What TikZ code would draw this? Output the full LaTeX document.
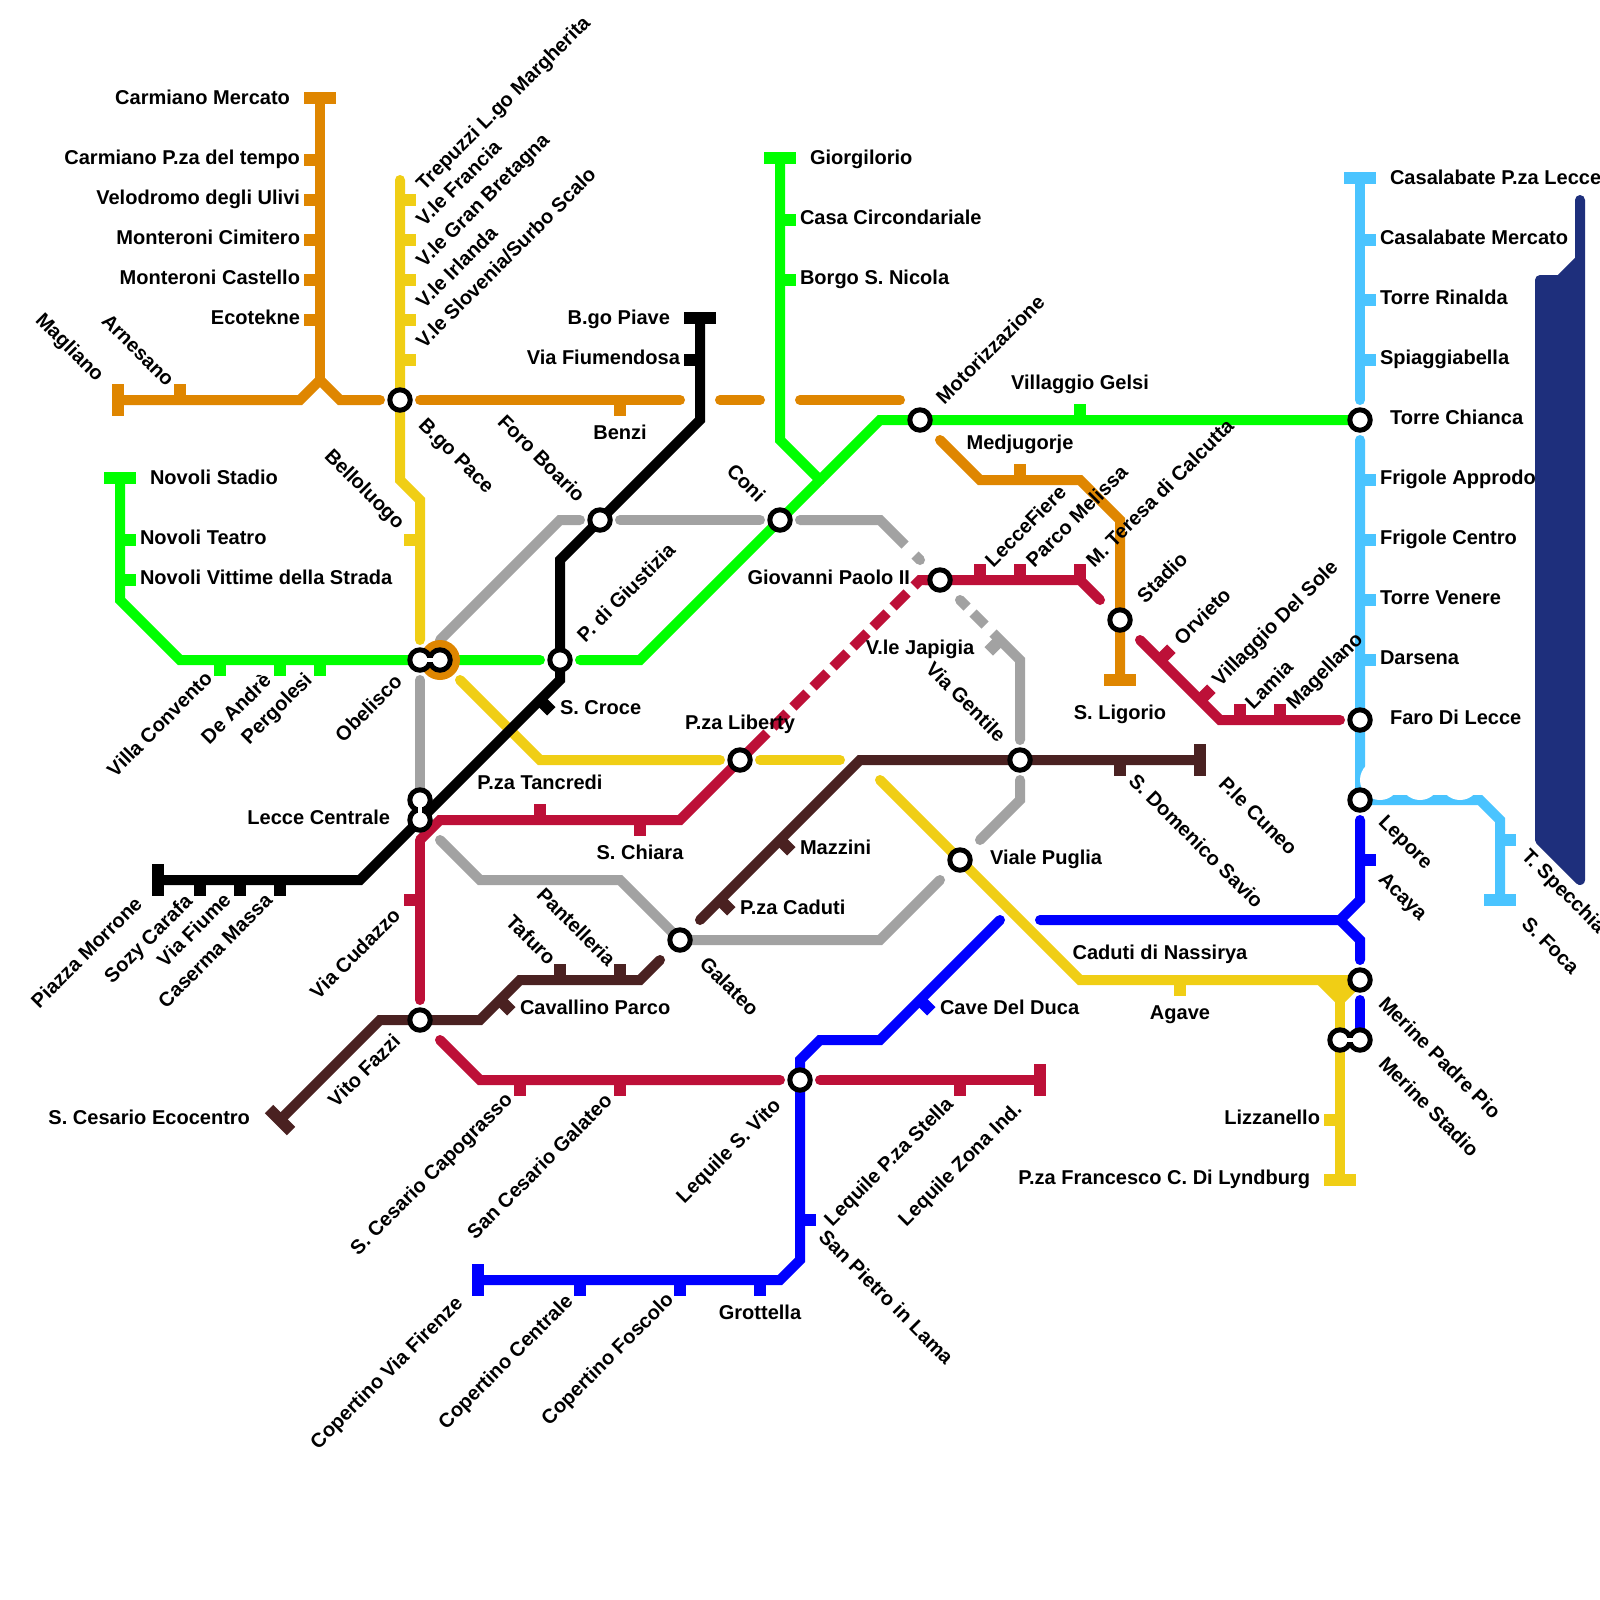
\documentclass[tikz,border=0pt]{standalone}
\usepackage{fontspec}
\setmainfont{Liberation Sans}[BoldFont={Liberation Sans Bold}]
\definecolor{cor}{HTML}{DF8600}
\definecolor{cye}{HTML}{F0CE15}
\definecolor{cgr}{HTML}{00FF00}
\definecolor{cgy}{HTML}{A2A2A2}
\definecolor{cre}{HTML}{BD1038}
\definecolor{cbr}{HTML}{4A2121}
\definecolor{cbl}{HTML}{0000FF}
\definecolor{clb}{HTML}{4AC4FF}
\definecolor{cnv}{HTML}{1E2F7C}
\newcounter{lbn}
\newcommand{\lbl}[3]{\stepcounter{lbn}\node[lab,#1] (lab\thelbn) at (#2) {#3};}
\newcommand{\stn}[1]{\node[station] (st#1) at (#1) {};}
\tikzset{
 mline/.style={line width=.5cm,line cap=round,line join=miter,miter limit=10},
 bline/.style={line width=.5cm,line cap=butt,line join=miter,miter limit=10},
 tickm/.style={line width=.6cm,line cap=butt},
 pairb/.style={line width=.55cm,black},
 pairw/.style={line width=.2cm,white},
 station/.style={circle,draw=black,fill=white,line width=.25cm,minimum size=1.02cm,inner sep=0pt},
 lab/.style={inner sep=0pt,outer sep=0pt,font=\fontsize{28.5}{30}\selectfont\bfseries,text=black},
 hl/.style={yshift=.01cm,anchor=base west},
 hr/.style={yshift=.01cm,anchor=base east},
 hc/.style={yshift=.01cm,anchor=base},
 ru/.style={xshift=.42cm,yshift=-.4cm,rotate=45,anchor=base west},
 rd/.style={xshift=-.07cm,yshift=-.25cm,rotate=-45,anchor=base west},
}
\begin{document}
\begin{tikzpicture}[x=.05cm,y=-.05cm]
\useasboundingbox (0,0) rectangle (1600,1600);
\fill[white] (0,0) rectangle (1600,1600);
% station positions
\foreach \n/\p in {bgopace/{400,400},obel/{420,660},obelb/{440,660},giust/{560,660},foro/{600,520},coni/{780,520},motor/{920,420},chianca/{1360,420},liberty/{740,760},gpaolo/{940,580},stadio/{1120,620},gentile/{1020,760},puglia/{960,860},galateo/{680,940},lecce/{420,800},lecceb/{420,820},fazzi/{420,1020},svito/{800,1080},faro/{1360,720},lepore/{1360,800},padrepio/{1360,980},stadioa/{1340,1040},stadiob/{1360,1040}}
 {\coordinate (\n) at (\p);}
% sea
\draw[cnv,fill=cnv,line width=.5cm,line cap=round,line join=round] (1580,200) -- (1580,880) -- (1540,840) -- (1540,280) -- (1560,280) -- (1580,260) -- cycle;
% grey
\draw[mline,cgy] (obelb) ++(0,-20) -- (560,520) -- (580,520);
\draw[mline,cgy] (620,520) -- (760,520);
\fill[cgy] (800,520) circle (5);
\draw[bline,cgy] (800,520) -- (880,520) -- (905,545);
\draw[bline,cgy] (915,555) -- (920,560);
\fill[cgy] (920,560) circle (5);
\fill[cgy] (960,600) circle (5);
\draw[bline,cgy] (960,600) -- (967,607);
\draw[bline,cgy] (973,613) -- (985,625);
\draw[bline,cgy] (993,633) -- (1000,640) -- (1020,660) -- (1020,740);
\fill[cgy] (1020,740) circle (5);
\draw[mline,cgy] (1020,780) -- (1020,800) -- (980,840);
\draw[mline,cgy] (940,880) -- (880,940) -- (galateo);
\draw[mline,cgy] (galateo) -- (620,880) -- (480,880) -- (440,840);
\draw[mline,cgy] (420,680) -- (lecce);
\draw[tickm,cgy] (1000,640) -- (988.7,651.3);
% yellow
\draw[mline,cye] (400,180) -- (400,480) -- (420,500) -- (420,640);
\draw[mline,cye] (460,680) -- (540,760) -- (720,760);
\draw[mline,cye] (760,760) -- (840,760);
\draw[mline,cye] (880,780) -- (1080,980) -- (padrepio);
\draw[bline,cye] (1320,980) -- (1340,1000) -- (1360,980);
\fill[cye] (1320,980) -- (1360,980) -- (1340,1000) -- cycle;
\draw[mline,cye] (1340,1000) -- (1340,1180);
\foreach \y in {200,240,280,320,360} \draw[tickm,cye] (400,\y) -- ++(16,0);
\draw[tickm,cye] (420,540) -- ++(-16,0);
\draw[tickm,cye] (1180,980) -- ++(0,16);
\draw[tickm,cye] (1340,1120) -- ++(-16,0);
\draw[tickm,cye] (1324,1180) -- (1356,1180);
% orange
\draw[mline,cor] (118,400) -- (300,400) -- (320,380) -- (340,400) -- (380,400);
\draw[mline,cor] (320,98) -- (320,380);
\draw[mline,cor] (420,400) -- (680,400);
\draw[mline,cor] (720,400) -- (760,400);
\draw[mline,cor] (800,400) -- (900,400);
\draw[mline,cor] (940,440) -- (980,480) -- (1080,480) -- (1120,520) -- (1120,680);
\draw[tickm,cor] (118,384) -- (118,416);
\draw[tickm,cor] (180,400) -- ++(0,-16);
\draw[tickm,cor] (304,98) -- (336,98);
\foreach \y in {160,200,240,280,320} \draw[tickm,cor] (320,\y) -- ++(-16,0);
\draw[tickm,cor] (620,400) -- ++(0,16);
\draw[tickm,cor] (1020,480) -- ++(0,-16);
\draw[tickm,cor] (1104,680) -- (1136,680);
% green
\draw[mline,cgr] (120,478) -- (120,600) -- (180,660) -- (obelb) -- (540,660);
\draw[mline,cgr] (580,660) -- (640,660) -- (880,420) -- (chianca);
\draw[mline,cgr] (780,158) -- (780,440) -- (820,480);
\draw[tickm,cgr] (104,478) -- (136,478);
\foreach \y in {540,580} \draw[tickm,cgr] (120,\y) -- ++(16,0);
\foreach \x in {220,280,320} \draw[tickm,cgr] (\x,660) -- ++(0,16);
\draw[tickm,cgr] (764,158) -- (796,158);
\foreach \y in {220,280} \draw[tickm,cgr] (780,\y) -- ++(16,0);
\draw[tickm,cgr] (1080,420) -- ++(0,-16);
% orange ring at interchange
\fill[cor] (obelb) circle (20);
% black
\draw[mline,black] (700,318) -- (700,420) -- (560,560) -- (560,680) -- (360,880) -- (158,880);
\draw[tickm,black] (684,318) -- (716,318);
\draw[tickm,black] (700,360) -- ++(-16,0);
\draw[tickm,black] (540,700) -- ++(11.3,11.3);
\draw[tickm,black] (158,864) -- (158,896);
\foreach \x in {200,240,280} \draw[tickm,black] (\x,880) -- ++(0,16);
% red
\draw[bline,cre] (lecceb) ++(0,20) -- (440,820) -- (680,820) -- (767,733);
\draw[mline,cre] (420,840) -- (420,1000);
\foreach \x in {773,793,813,833,853,873,893} \draw[line width=.5cm,cre] (\x,1500-\x) -- ++(14,-14);
\draw[bline,cre] (914,586) -- (920,580) -- (930,580);
\draw[mline,cre] (925,580) -- (1080,580) -- (1100,600);
\draw[mline,cre] (1140,640) -- (1220,720) -- (1340,720);
\draw[mline,cre] (440,1040) -- (480,1080) -- (780,1080);
\draw[mline,cre] (820,1080) -- (1040,1080);
\draw[tickm,cre] (540,820) -- ++(0,-16);
\draw[tickm,cre] (640,820) -- ++(0,16);
\draw[tickm,cre] (420,900) -- ++(-16,0);
\foreach \x in {980,1020,1080} \draw[tickm,cre] (\x,580) -- ++(0,-16);
\draw[tickm,cre] (1160,660) -- ++(11.3,-11.3);
\draw[tickm,cre] (1200,700) -- ++(11.3,-11.3);
\foreach \x in {1240,1280} \draw[tickm,cre] (\x,720) -- ++(0,-16);
\foreach \x in {520,620,960} \draw[tickm,cre] (\x,1080) -- ++(0,16);
\draw[tickm,cre] (1040,1064) -- (1040,1096);
% brown
\draw[mline,cbr] (1200,760) -- (860,760) -- (700,920);
\draw[mline,cbr] (660,960) -- (640,980) -- (520,980) -- (480,1020) -- (380,1020) -- (280,1120);
\draw[tickm,cbr] (1200,744) -- (1200,776);
\draw[tickm,cbr] (1120,760) -- ++(0,16);
\draw[tickm,cbr] (780,840) -- ++(11.3,11.3);
\draw[tickm,cbr] (720,900) -- ++(11.3,11.3);
\foreach \x in {560,620} \draw[tickm,cbr] (\x,980) -- ++(0,-16);
\draw[tickm,cbr] (500,1000) -- ++(11.3,11.3);
\draw[tickm,cbr] (269,1109) -- (291,1131);
% blue
\draw[mline,cbl] (478,1280) -- (780,1280) -- (800,1260) -- (800,1060) -- (820,1040) -- (880,1040) -- (1000,920);
\draw[mline,cbl] (1040,920) -- (1340,920) -- (1360,900) -- (1360,820);
\draw[mline,cbl] (1340,920) -- (1360,940) -- (1360,960);
\draw[mline,cbl] (1360,1000) -- (stadiob);
\draw[tickm,cbl] (478,1264) -- (478,1296);
\foreach \x in {580,680,760} \draw[tickm,cbl] (\x,1280) -- ++(0,16);
\draw[tickm,cbl] (800,1220) -- ++(16,0);
\draw[tickm,cbl] (920,1000) -- ++(11.3,11.3);
\draw[tickm,cbl] (1360,860) -- ++(16,0);
% light blue
\draw[mline,clb] (1360,178) -- (1360,400);
\draw[mline,clb] (1360,440) -- (lepore) -- (1480,800) -- (1500,820) -- (1500,900);
\foreach \c in {1380,1420,1460} \fill[white] (\c,780) circle (20);
\draw[tickm,clb] (1344,178) -- (1376,178);
\foreach \y in {240,300,360,480,540,600,660} \draw[tickm,clb] (1360,\y) -- ++(16,0);
\draw[tickm,clb] (1500,840) -- ++(16,0);
\draw[tickm,clb] (1484,900) -- (1516,900);
% interchange links under stations
\draw[pairb] (obel) -- (obelb);
\draw[pairb] (lecce) -- (lecceb);
\draw[pairb] (stadioa) -- (stadiob);
% stations
\foreach \n in {bgopace,obel,obelb,giust,foro,coni,motor,chianca,liberty,gpaolo,stadio,gentile,puglia,galateo,lecce,lecceb,fazzi,svito,faro,lepore,padrepio,stadioa,stadiob} {\stn{\n}}
\draw[pairw] (obel) -- (obelb);
\draw[pairw] (lecce) -- (lecceb);
\draw[pairw] (stadioa) -- (stadiob);
% horizontal labels
\lbl{hr}{290,105}{Carmiano Mercato}
\lbl{hr}{300,165}{Carmiano P.za del tempo}
\lbl{hr}{300,205}{Velodromo degli Ulivi}
\lbl{hr}{300,245}{Monteroni Cimitero}
\lbl{hr}{300,285}{Monteroni Castello}
\lbl{hr}{300,325}{Ecotekne}
\lbl{hl}{150,485}{Novoli Stadio}
\lbl{hl}{140,545}{Novoli Teatro}
\lbl{hl}{140,585}{Novoli Vittime della Strada}
\lbl{hr}{670,325}{B.go Piave}
\lbl{hr}{680,365}{Via Fiumendosa}
\lbl{hc}{620,440}{Benzi}
\lbl{hl}{560,715}{S. Croce}
\lbl{hc}{740,730}{P.za Liberty}
\lbl{hc}{540,790}{P.za Tancredi}
\lbl{hc}{640,860}{S. Chiara}
\lbl{hr}{390,825}{Lecce Centrale}
\lbl{hl}{520,1015}{Cavallino Parco}
\lbl{hr}{250,1125}{S. Cesario Ecocentro}
\lbl{hc}{760,1320}{Grottella}
\lbl{hl}{810,165}{Giorgilorio}
\lbl{hl}{800,225}{Casa Circondariale}
\lbl{hl}{800,285}{Borgo S. Nicola}
\lbl{hc}{1080,390}{Villaggio Gelsi}
\lbl{hc}{1020,450}{Medjugorje}
\lbl{hr}{910,585}{Giovanni Paolo II}
\lbl{hc}{920,655}{V.le Japigia}
\lbl{hc}{1120,720}{S. Ligorio}
\lbl{hl}{1390,185}{Casalabate P.za Lecce}
\lbl{hl}{1380,245}{Casalabate Mercato}
\lbl{hl}{1380,305}{Torre Rinalda}
\lbl{hl}{1380,365}{Spiaggiabella}
\lbl{hl}{1390,425}{Torre Chianca}
\lbl{hl}{1380,485}{Frigole Approdo}
\lbl{hl}{1380,545}{Frigole Centro}
\lbl{hl}{1380,605}{Torre Venere}
\lbl{hl}{1380,665}{Darsena}
\lbl{hl}{1390,725}{Faro Di Lecce}
\lbl{hl}{990,865}{Viale Puglia}
\lbl{hl}{800,855}{Mazzini}
\lbl{hl}{740,915}{P.za Caduti}
\lbl{hc}{1160,960}{Caduti di Nassirya}
\lbl{hl}{940,1015}{Cave Del Duca}
\lbl{hc}{1180,1020}{Agave}
\lbl{hr}{1320,1125}{Lizzanello}
\lbl{hr}{1310,1185}{P.za Francesco C. Di Lyndburg}
% rising labels
\lbl{ru}{416,183}{Trepuzzi L.go Margherita}
\lbl{ru}{416,219}{V.le Francia}
\lbl{ru}{416,260}{V.le Gran Bretagna}
\lbl{ru}{416,301}{V.le Irlanda}
\lbl{ru}{416,341}{V.le Slovenia/Surbo Scalo}
\lbl{ru}{107,770}{Villa Convento}
\lbl{ru}{201,737}{De Andrè}
\lbl{ru}{241,737}{Pergolesi}
\lbl{ru}{335,735}{Obelisco}
\lbl{ru}{31,1001}{Piazza Morrone}
\lbl{ru}{104,976}{Sozy Carafa}
\lbl{ru}{157,960}{Via Fiume}
\lbl{ru}{158,1001}{Caserma Massa}
\lbl{ru}{310,992}{Via Cudazzo}
\lbl{ru}{328,1100}{Vito Fazzi}
\lbl{ru}{350,1248}{S. Cesario Capograsso}
\lbl{ru}{467,1232}{San Cesario Galateo}
\lbl{ru}{676,1196}{Lequile S. Vito}
\lbl{ru}{310,1442}{Copertino Via Firenze}
\lbl{ru}{438,1422}{Copertino Centrale}
\lbl{ru}{541,1418}{Copertino Foscolo}
\lbl{ru}{577,635}{P. di Giustizia}
\lbl{ru}{936,397}{Motorizzazione}
\lbl{ru}{985,560}{LecceFiere}
\lbl{ru}{1026,560}{Parco Melissa}
\lbl{ru}{1086,560}{M. Teresa di Calcutta}
\lbl{ru}{1137,596}{Stadio}
\lbl{ru}{1174,638}{Orvieto}
\lbl{ru}{1212,679}{Villaggio Del Sole}
\lbl{ru}{1245,702}{Lamia}
\lbl{ru}{1286,702}{Magellano}
\lbl{ru}{824,1219}{Lequile P.za Stella}
\lbl{ru}{898,1219}{Lequile Zona Ind.}
% falling labels
\lbl{rd}{36,316}{Magliano}
\lbl{rd}{102,317}{Arnesano}
\lbl{rd}{419,421}{B.go Pace}
\lbl{rd}{498,418}{Foro Boario}
\lbl{rd}{325,452}{Belloluogo}
\lbl{rd}{727,467}{Coni}
\lbl{rd}{926,665}{Via Gentile}
\lbl{rd}{1129,777}{S. Domenico Savio}
\lbl{rd}{1219,780}{P.le Cuneo}
\lbl{rd}{1379,818}{Lepore}
\lbl{rd}{1379,875}{Acaya}
\lbl{rd}{1522,852}{T. Specchia}
\lbl{rd}{1522,920}{S. Foca}
\lbl{rd}{1379,1000}{Merine Padre Pio}
\lbl{rd}{1379,1060}{Merine Stadio}
\lbl{rd}{506,918}{Tafuro}
\lbl{rd}{537,891}{Pantelleria}
\lbl{rd}{700,960}{Galateo}
\lbl{rd}{819,1233}{San Pietro in Lama}
\end{tikzpicture}
\end{document}
